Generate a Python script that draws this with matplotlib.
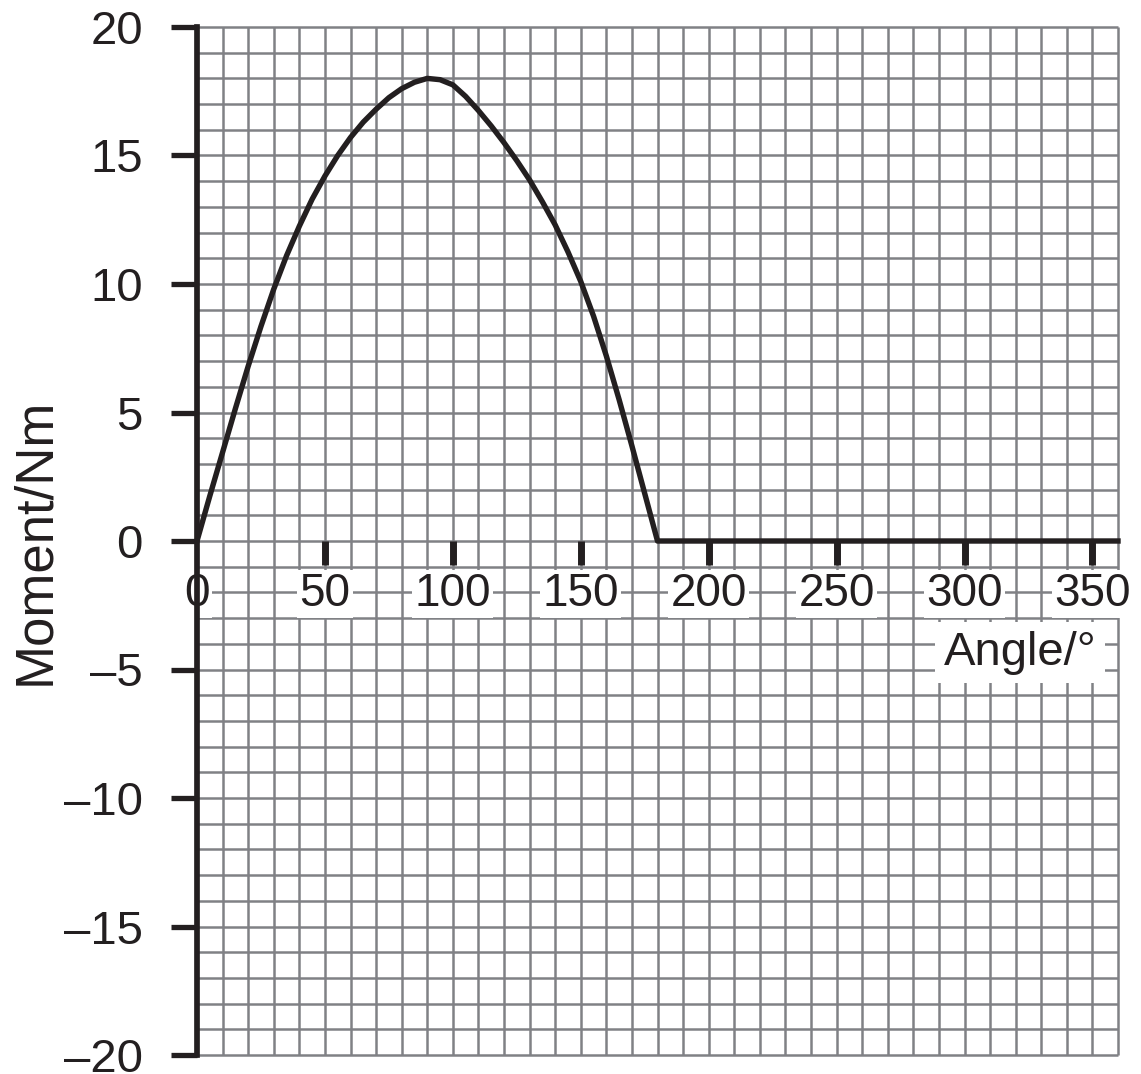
import numpy as np
import matplotlib
matplotlib.use('Agg')
import matplotlib.pyplot as plt

plt.rcParams['font.family'] = ['Liberation Sans', 'DejaVu Sans']

# curve (angle in degrees, moment in Nm)
angle = [0, 5, 10, 15, 20, 25, 30, 35, 40, 45, 50, 55, 60, 65, 70, 75, 80, 85, 90,
         95, 100, 105, 110, 115, 120, 125, 130, 135, 140, 145, 150, 155, 160, 165,
         170, 175, 180, 360]
moment = [0, 1.75, 3.45, 5.15, 6.8, 8.35, 9.8, 11.1, 12.25, 13.3, 14.2, 15.0, 15.7,
          16.3, 16.8, 17.25, 17.6, 17.85, 18.0, 17.95, 17.75, 17.3, 16.75, 16.15,
          15.5, 14.8, 14.05, 13.2, 12.3, 11.25, 10.1, 8.75, 7.2, 5.5, 3.7, 1.85, 0, 0]

x_ticks = [0, 50, 100, 150, 200, 250, 300, 350]
y_ticks = [-20, -15, -10, -5, 0, 5, 10, 15, 20]
y_labels = ['\u201320', '\u201315', '\u201310', '\u20135', '0', '5', '10', '15', '20']

ink = '#231f20'
grid_col = '#808185'

fig = plt.figure(figsize=(11.41, 10.74), dpi=100)
ax = fig.add_axes([197 / 1141, 19 / 1074, 921 / 1141, 1028 / 1074])
ax.set_xlim(0, 360)
ax.set_ylim(-20, 20)

# graph paper: 10 deg by 1 Nm squares
ax.vlines(np.arange(0, 361, 10), -20, 20, color=grid_col, lw=1.8, zorder=1, clip_on=False)
ax.hlines(np.arange(-20, 21, 1), 0, 360, color=grid_col, lw=1.8, zorder=1, clip_on=False)

ax.plot(angle, moment, color=ink, lw=3.9, zorder=5, solid_joinstyle='round', clip_on=False)

# short ticks hanging under the zero line
ax.vlines(x_ticks[1:], -0.93, 0, color=ink, lw=5, zorder=4)
for xv in x_ticks:
    ax.text(xv, -2.06, str(xv), ha='center', va='center', fontsize=33, color=ink, zorder=3,
            bbox=dict(facecolor='white', edgecolor='none', pad=1.5))

ax.text(321.8, -4.35, 'Angle/\u00b0', ha='center', va='center', fontsize=34, color=ink, zorder=3,
        bbox=dict(facecolor='white', edgecolor='none', pad=6))

ax.set_xticks([])
ax.set_yticks(y_ticks)
ax.set_yticklabels(y_labels)
ax.tick_params(axis='y', direction='out', length=19, width=3.8, pad=20, labelsize=34,
               colors=ink)
for s in ['top', 'right', 'bottom']:
    ax.spines[s].set_visible(False)
ax.spines['left'].set_linewidth(4.1)
ax.spines['left'].set_color(ink)
ax.spines['left'].set_zorder(6)

fig.text(35 / 1141, 0.496, 'Moment/Nm', rotation=90, ha='center', va='center',
         fontsize=38, color=ink)

fig.savefig('out.png', dpi=100, facecolor='white')
